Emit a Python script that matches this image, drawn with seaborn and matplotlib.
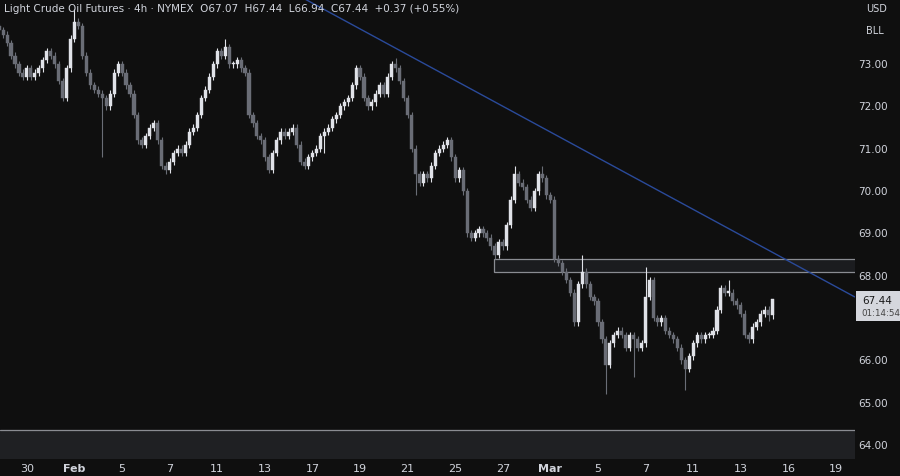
import numpy as np
import pandas as pd
import matplotlib
matplotlib.use("Agg")
import matplotlib.pyplot as plt
import seaborn as sns

closes = [73.8,73.7,73.5,73.2,73.0,72.8,72.7,72.9,72.7,72.8,
          72.9,73.1,73.3,73.2,73.0,72.6,72.2,72.9,73.6,74.0,
          73.9,73.2,72.8,72.5,72.4,72.3,72.2,72.0,72.3,72.8,
          73.0,72.8,72.5,72.3,71.8,71.2,71.1,71.3,71.5,71.6,
          71.2,70.6,70.5,70.7,70.9,71.0,70.9,71.1,71.4,71.5,
          71.8,72.2,72.4,72.7,73.0,73.3,73.2,73.4,73.0,73.0,
          73.1,72.9,72.8,71.8,71.6,71.3,71.2,70.8,70.5,70.9,
          71.2,71.4,71.3,71.4,71.5,71.1,70.7,70.6,70.8,70.9,
          71.0,71.3,71.4,71.5,71.7,71.8,72.0,72.1,72.2,72.5,
          72.9,72.7,72.2,72.0,72.1,72.3,72.5,72.3,72.7,73.0,
          72.9,72.6,72.2,71.8,71.0,70.4,70.2,70.4,70.3,70.6,
          70.9,71.0,71.1,71.2,70.8,70.3,70.5,70.0,69.0,68.9,
          69.0,69.1,69.0,68.9,68.7,68.5,68.8,68.7,69.2,69.8,
          70.4,70.2,70.1,69.8,69.6,70.0,70.4,70.3,69.9,69.8,
          68.4,68.3,68.1,67.9,67.6,66.9,67.8,68.1,67.8,67.5,
          67.4,66.9,66.5,65.9,66.4,66.6,66.7,66.6,66.3,66.6,
          66.5,66.3,66.4,67.5,67.9,67.0,66.9,67.0,66.7,66.6,
          66.5,66.3,66.0,65.8,66.1,66.4,66.6,66.5,66.6,66.6,
          66.7,67.2,67.7,67.6,67.6,67.4,67.3,67.1,66.6,66.5,
          66.8,66.9,67.1,67.2,67.07,67.44]
first_open = 73.9
# notable wick extremes (bar index -> price)
spike_highs = {19: 74.3, 57: 73.6, 100: 73.15, 130: 70.6, 137: 70.6, 147: 68.5, 163: 68.2, 184: 67.9, 195: 67.44}
spike_lows = {26: 70.8, 42: 70.4, 82: 70.9, 105: 69.9, 125: 68.4, 153: 65.2, 160: 65.6, 173: 65.3, 189: 66.4, 194: 66.94}
day_ticks = [0, 2, 4, 6, 8, 10, 12, 14, 16, 18, 20, 22, 24, 26, 28, 30, 32, 34]
day_labels = ["30", "Feb", "5", "7", "11", "13", "17", "19", "21", "25", "27", "Mar", "5", "7", "11", "13", "16", "19"]
price_ticks = [64, 65, 66, 67, 68, 69, 70, 71, 72, 73]
zone = (68.08, 68.40)
trend = ((11.68, 74.54), (34.79, 67.50))

sns.set_style("dark")
plt.rcParams['font.family'] = ['DejaVu Sans']
BG = "#0f0f0f"
fig = plt.figure(figsize=(9, 4.77), dpi=100, facecolor=BG)
ax = fig.add_axes([0, 17/477, 855/900, 460/477], facecolor=BG)

n = len(closes)
opens = [first_open] + closes[:-1]
x = -1.1667 + np.arange(n) / 6
df = pd.DataFrame({"x": x, "open": opens, "close": closes})
df["top"] = df[["open", "close"]].max(axis=1)
df["bot"] = df[["open", "close"]].min(axis=1)
df["high"] = df["top"] + 0.08
df["low"] = df["bot"] - 0.08
for k, v in spike_highs.items():
    df.loc[k, "high"] = max(v, df.loc[k, "top"])
for k, v in spike_lows.items():
    df.loc[k, "low"] = min(v, df.loc[k, "bot"])
df["up"] = df["close"] >= df["open"]
UP, DN = "#e0e2e8", "#6a6d76"
cols = np.where(df["up"], UP, DN)
ax.vlines(df["x"], df["low"], df["high"], colors=cols, lw=0.8, zorder=3)
ax.bar(df["x"], np.maximum(df["top"] - df["bot"], 0.03), bottom=df["bot"], width=0.13,
       color=cols, edgecolor=cols, lw=0.3, zorder=4)

# zones
ax.add_patch(plt.Rectangle((19.65, zone[0]), 16, zone[1] - zone[0], facecolor="#1b1c1f",
                           edgecolor="#8a8c92", lw=0.9, zorder=2))
ax.axhspan(60, 64.35, color="#1f2023", zorder=1)
ax.axhline(64.35, color="#8a8c92", lw=0.9, zorder=2)
ax.plot([trend[0][0], trend[1][0]], [trend[0][1], trend[1][1]], color="#2a4a9a", lw=1.0, zorder=5)

ax.set_xlim(-1.13, 34.8)
ax.set_ylim(63.67, 74.54)
ax.set_xticks(day_ticks)
ax.set_xticklabels(day_labels, color="#d1d4dc", fontsize=8)
for t, l in zip(ax.get_xticklabels(), day_labels):
    if l in ("Feb", "Mar"):
        t.set_fontweight("bold")
ax.set_yticks([])
ax.tick_params(axis="x", length=0, pad=3)
ax.grid(False)
for s in ax.spines.values():
    s.set_visible(False)

for p in price_ticks:
    if p == 67:
        continue  # hidden behind the live price tag
    fig.text(888/900, ax.transData.transform((0, p))[1] / 477, f"{p:.2f}", color="#d1d4dc",
             fontsize=7.5, ha="right", va="center")
fig.patches.append(plt.Rectangle((856/900, 1 - 322/477), 44/900, 30/477, transform=fig.transFigure,
                                 facecolor="#d5d7dd", edgecolor="none", zorder=5))
fig.text(862/900, 1 - 301/477, "67.44", color="#1a1a1a", fontsize=7.5, va="center", zorder=6)
fig.text(861/900, 1 - 313/477, "01:14:54", color="#444", fontsize=6.3, va="center", zorder=6)
fig.text(866/900, 1 - 9/477, "USD", color="#d1d4dc", fontsize=7, va="center")
fig.text(866/900, 1 - 31/477, "BLL", color="#d1d4dc", fontsize=7, va="center")
fig.text(4/900, 1 - 9/477, "Light Crude Oil Futures · 4h · NYMEX  O67.07  H67.44  L66.94  C67.44  +0.37 (+0.55%)",
         color="#d1d4dc", fontsize=7.5, va="center")
fig.savefig("out.png", dpi=100, facecolor=BG)
